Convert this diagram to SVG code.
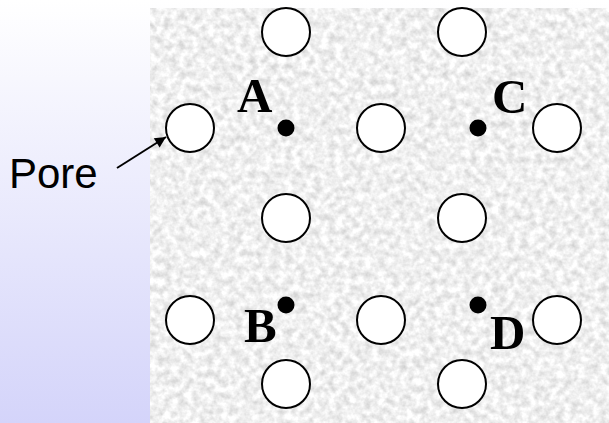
<svg xmlns="http://www.w3.org/2000/svg" width="609" height="423" viewBox="0 0 609 423">
  <defs>
    <linearGradient id="bg" x1="0" y1="0" x2="0" y2="1">
      <stop offset="0" stop-color="#ffffff"/>
      <stop offset="1" stop-color="#d4d4fa"/>
    </linearGradient>
    <filter id="tex" x="0" y="0" width="1" height="1" filterUnits="objectBoundingBox" color-interpolation-filters="sRGB">
      <feTurbulence type="fractalNoise" baseFrequency="0.14" numOctaves="3" seed="7" result="n"/>
      <feColorMatrix in="n" type="matrix" values="0.3 0 0 0 0.79  0.3 0 0 0 0.79  0.3 0 0 0 0.79  0 0 0 0 1"/>
    </filter>
    <marker id="arr" viewBox="0 0 10 10" refX="10" refY="5" markerWidth="14" markerHeight="11" markerUnits="userSpaceOnUse" orient="auto">
      <path d="M0,0 L10,5 L0,10 z" fill="#000"/>
    </marker>
    <style>
      .pore { fill: #ffffff; stroke: #000000; stroke-width: 2; }
      .site { fill: #000000; }
      .lbl { font-family: "Liberation Serif", "Times New Roman", serif; font-weight: bold; font-size: 49px; fill: #000; }
      .txt { font-family: "Liberation Sans", Arial, sans-serif; font-size: 42px; fill: #000; }
    </style>
  </defs>

  <rect x="0" y="0" width="609" height="423" fill="url(#bg)"/>
  <rect x="150" y="8" width="459" height="415" fill="#ebebeb" filter="url(#tex)"/>

  <g id="pores">
    <g id="pore-1"><circle class="pore" cx="286" cy="32" r="24"/></g>
    <g id="pore-2"><circle class="pore" cx="462" cy="32" r="24"/></g>
    <g id="pore-3"><circle class="pore" cx="190" cy="128" r="24"/></g>
    <g id="pore-4"><circle class="pore" cx="381" cy="128" r="24"/></g>
    <g id="pore-5"><circle class="pore" cx="557" cy="128" r="24"/></g>
    <g id="pore-6"><circle class="pore" cx="286" cy="218" r="24"/></g>
    <g id="pore-7"><circle class="pore" cx="462" cy="218" r="24"/></g>
    <g id="pore-8"><circle class="pore" cx="190" cy="320" r="24"/></g>
    <g id="pore-9"><circle class="pore" cx="381" cy="320" r="24"/></g>
    <g id="pore-10"><circle class="pore" cx="557" cy="320" r="24"/></g>
    <g id="pore-11"><circle class="pore" cx="286" cy="384" r="24"/></g>
    <g id="pore-12"><circle class="pore" cx="462" cy="384" r="24"/></g>
  </g>

  <g id="site-A"><circle class="site" cx="286" cy="128" r="8.5"/><text class="lbl" x="237" y="112">A</text></g>
  <g id="site-B"><circle class="site" cx="286" cy="305" r="8.5"/><text class="lbl" x="244" y="342">B</text></g>
  <g id="site-C"><circle class="site" cx="478" cy="128" r="8.5"/><text class="lbl" x="492" y="113">C</text></g>
  <g id="site-D"><circle class="site" cx="478" cy="305" r="8.5"/><text class="lbl" x="490" y="349">D</text></g>

  <g id="pore-label"><text class="txt" x="9" y="188">Pore</text></g>

  <g id="connectors">
    <line x1="117" y1="168" x2="166" y2="137" stroke="#000" stroke-width="2" marker-end="url(#arr)"/>
  </g>
</svg>
